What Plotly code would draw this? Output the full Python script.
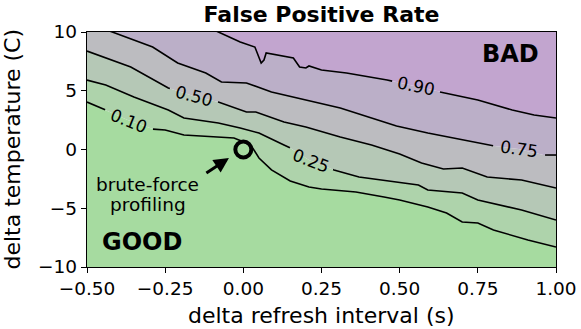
import numpy as np
import plotly.graph_objects as go

# ---- data -------------------------------------------------------------
LEVELS = [0.10, 0.25, 0.50, 0.75, 0.90]
LEVEL_TEXT = ["0.10", "0.25", "0.50", "0.75", "0.90"]

# contour positions (delta refresh interval s, delta temperature C)
C10_X = [-0.50, -0.44, -0.37, -0.29, -0.25, -0.19, -0.08, -0.03, 0.01, 0.03, 0.05, 0.09,
         0.15, 0.21, 0.25, 0.36, 0.45, 0.50, 0.59, 0.65, 0.70, 0.75, 0.80, 0.91, 1.00]
C10_Y = [4.04, 3.36, 2.51, 1.74, 1.66, 1.23, 1.06, 0.98, 0.55, 0.13, -0.72, -1.74,
         -2.68, -3.19, -3.36, -3.62, -4.04, -4.30, -4.89, -5.40, -6.17, -6.26, -6.85, -7.70, -8.30]

C25_X = [-0.50, -0.44, -0.35, -0.24, -0.19, -0.08, -0.01, 0.05, 0.13, 0.15, 0.21, 0.29,
         0.37, 0.44, 0.50, 0.56, 0.59, 0.70, 0.75, 0.89, 1.00]
C25_Y = [5.91, 5.49, 4.47, 3.36, 2.68, 2.26, 1.83, 1.40, 0.38, 0.13, -0.89, -1.74,
         -2.34, -2.60, -2.85, -3.02, -3.45, -3.70, -4.30, -5.15, -6.00]

C50_X = [-0.50, -0.44, -0.36, -0.24, -0.16, -0.08, 0.01, 0.04, 0.13, 0.20, 0.31, 0.41,
         0.50, 0.57, 0.64, 0.70, 0.78, 0.89, 1.00]
C50_Y = [8.38, 7.79, 7.02, 5.23, 4.55, 4.04, 3.19, 3.19, 2.34, 1.91, 1.06, 0.38,
         -0.38, -1.15, -1.66, -1.57, -2.34, -2.60, -3.28]

C75_X = [-0.50, -0.42, -0.29, -0.21, -0.12, -0.07, 0.01, 0.09, 0.20, 0.31, 0.41, 0.49,
         0.59, 0.70, 0.78, 0.88, 0.96, 1.00]
C75_Y = [10.80, 10.00, 8.72, 7.36, 6.51, 5.74, 5.66, 4.89, 4.21, 3.53, 2.68, 2.00,
         1.40, 0.81, 0.38, 0.04, -0.47, -0.47]

C90_X = [-0.50, -0.08, -0.01, 0.037, 0.047, 0.057, 0.066, 0.073, 0.16, 0.18, 0.20, 0.21,
         0.25, 0.33, 0.46, 0.55, 0.63, 0.75, 0.86, 0.93, 1.00]
C90_Y = [15.11, 10.00, 9.15, 8.72, 8.04, 7.36, 7.62, 8.21, 7.79, 7.02, 6.94, 7.11,
         6.77, 6.51, 5.91, 5.40, 4.89, 4.21, 3.36, 2.94, 2.68]

CONTOUR_X = [C10_X, C25_X, C50_X, C75_X, C90_X]
CONTOUR_Y = [C10_Y, C25_Y, C50_Y, C75_Y, C90_Y]

X_TICKS = [-0.50, -0.25, 0.00, 0.25, 0.50, 0.75, 1.00]
X_TICK_TEXT = ["\u22120.50", "\u22120.25", "0.00", "0.25", "0.50", "0.75", "1.00"]
Y_TICKS = [-10, -5, 0, 5, 10]
Y_TICK_TEXT = ["\u221210", "\u22125", "0", "5", "10"]

PROFILE_X = [0.0]
PROFILE_Y = [0.0]

# ---- styling / placement ---------------------------------------------
BAND_COLORS = ["#a6dba0", "#aed3ab", "#b5c8b6", "#bcbcc0", "#bbafc8", "#c2a5cf"]
LABEL_CX = [-0.3655, 0.218, -0.158, 0.882, 0.5525]
LABEL_HALF = [0.0765, 0.069, 0.077, 0.083, 0.0765]
LABEL_ANGLE = [22, 21, 15, 8, 12]
XMIN, XMAX, YMIN, YMAX = -0.5, 1.0, -10, 10
FONT = "DejaVu Sans"

fig = go.Figure()

# filled bands between consecutive contour lines
fig.add_trace(go.Scatter(x=[XMIN, XMAX], y=[YMIN, YMIN], mode="lines",
                         line=dict(width=0), showlegend=False, hoverinfo="skip"))
for i in range(len(LEVELS)):
    fig.add_trace(go.Scatter(x=CONTOUR_X[i], y=CONTOUR_Y[i], mode="lines",
                             line=dict(width=0), fill="tonexty",
                             fillcolor=BAND_COLORS[i], showlegend=False, hoverinfo="skip"))
fig.add_trace(go.Scatter(x=[XMIN, XMAX], y=[16, 16], mode="lines",
                         line=dict(width=0), fill="tonexty",
                         fillcolor=BAND_COLORS[-1], showlegend=False, hoverinfo="skip"))

# contour lines with gaps for inline labels
for i in range(len(LEVELS)):
    xs = np.array(CONTOUR_X[i], dtype=float)
    ys = np.array(CONTOUR_Y[i], dtype=float)
    a = LABEL_CX[i] - LABEL_HALF[i]
    b = LABEL_CX[i] + LABEL_HALF[i]
    left = xs < a
    right = xs > b
    lx = list(xs[left]) + [a]
    ly = list(ys[left]) + [float(np.interp(a, xs, ys))]
    rx = [b] + list(xs[right])
    ry = [float(np.interp(b, xs, ys))] + list(ys[right])
    fig.add_trace(go.Scatter(x=lx + [None] + rx, y=ly + [None] + ry, mode="lines",
                             line=dict(color="black", width=1.6),
                             showlegend=False, hoverinfo="skip", connectgaps=False))
    fig.add_annotation(x=LABEL_CX[i], y=float(np.interp(LABEL_CX[i], xs, ys)),
                       text=LEVEL_TEXT[i], showarrow=False, textangle=LABEL_ANGLE[i],
                       font=dict(family=FONT, size=17, color="black"))

# brute-force profiling point
fig.add_trace(go.Scatter(x=PROFILE_X, y=PROFILE_Y, mode="markers",
                         marker=dict(symbol="circle-open", size=16, color="black",
                                     line=dict(width=4, color="black")),
                         showlegend=False, hoverinfo="skip"))
fig.add_annotation(x=-0.046, y=-0.72, ax=-0.123, ay=-2.09, axref="x", ayref="y",
                   xref="x", yref="y", text="", showarrow=True, arrowhead=2,
                   arrowsize=1, arrowwidth=3, arrowcolor="black")
fig.add_annotation(x=-0.305, y=-3.02, text="brute-force", showarrow=False,
                   font=dict(family=FONT, size=18.5, color="black"))
fig.add_annotation(x=-0.305, y=-4.72, text="profiling", showarrow=False,
                   font=dict(family=FONT, size=18.5, color="black"))
fig.add_annotation(x=0.8545, y=8.17, text="<b>BAD</b>", showarrow=False,
                   font=dict(family=FONT, size=24, color="black"))
fig.add_annotation(x=-0.324, y=-7.83, text="<b>GOOD</b>", showarrow=False,
                   font=dict(family=FONT, size=24, color="black"))

# axis titles
fig.add_annotation(xref="paper", yref="paper", x=0.5, y=0, yanchor="middle",
                   yshift=-48, text="delta refresh interval (s)", showarrow=False,
                   font=dict(family=FONT, size=22, color="black"))
fig.add_annotation(xref="paper", yref="paper", x=0, y=0.5, xanchor="center",
                   xshift=-75, textangle=-90, text="delta temperature (C)",
                   showarrow=False, font=dict(family=FONT, size=22, color="black"))

fig.update_layout(
    width=581, height=329,
    margin=dict(l=87, r=25, t=32, b=62),
    paper_bgcolor="white", plot_bgcolor="white",
    font=dict(family=FONT, size=18.5, color="black"),
    title=dict(text="<b>False Positive Rate</b>", xref="paper", x=0.5, xanchor="center",
               y=1 - 14 / 329, yanchor="middle", font=dict(family=FONT, size=22)),
)
fig.update_xaxes(range=[XMIN, XMAX], tickvals=X_TICKS, ticktext=X_TICK_TEXT,
                 ticks="outside", ticklen=5, tickwidth=1.2, tickcolor="black",
                 showline=True, linecolor="black", linewidth=1.3, mirror=True,
                 showgrid=False, zeroline=False, automargin=False,
                 tickfont=dict(family=FONT, size=18.5))
fig.update_yaxes(range=[YMIN, YMAX], tickvals=Y_TICKS, ticktext=Y_TICK_TEXT,
                 ticks="outside", ticklen=5, tickwidth=1.2, tickcolor="black",
                 showline=True, linecolor="black", linewidth=1.3, mirror=True,
                 showgrid=False, zeroline=False, automargin=False,
                 tickfont=dict(family=FONT, size=18.5))

fig.write_html("out.html", config={"displayModeBar": False},
               post_script="document.body.style.margin='0px';")
